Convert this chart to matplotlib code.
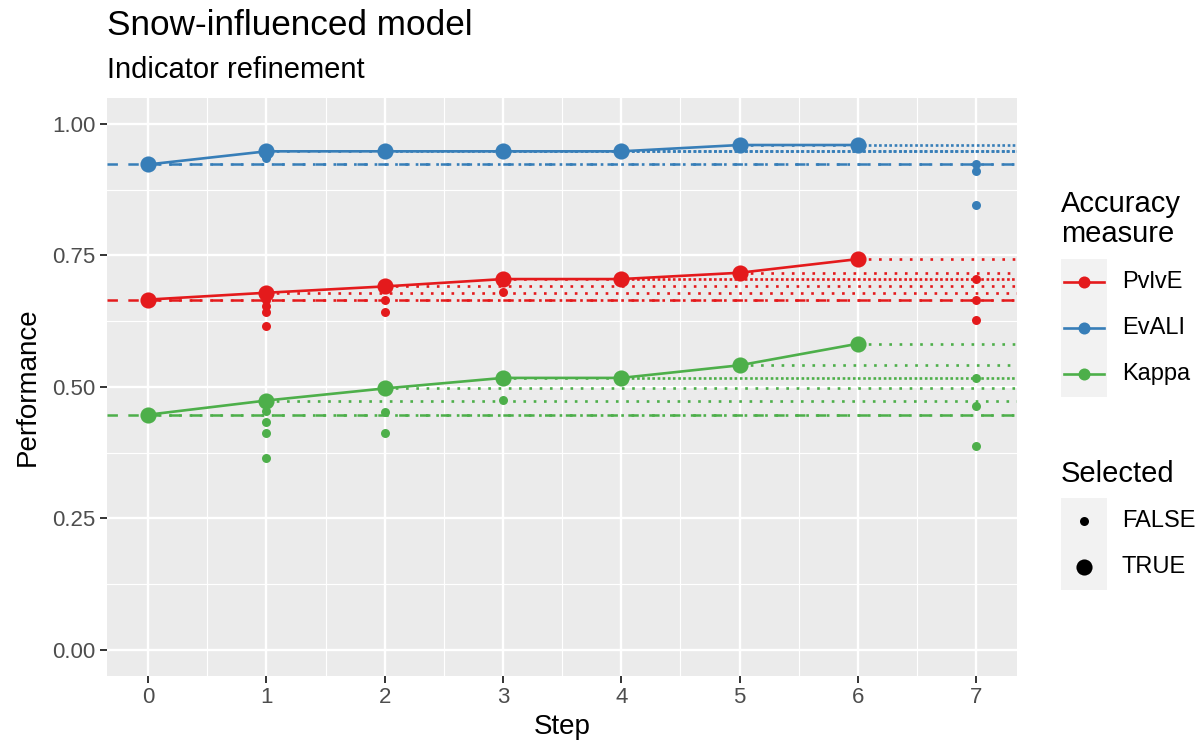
import matplotlib.pyplot as plt
from matplotlib.patches import Rectangle

plt.rcParams['font.family'] = ['Liberation Sans', 'DejaVu Sans']
plt.rcParams['lines.scale_dashes'] = False

steps = [0, 1, 2, 3, 4, 5, 6]
measures = ["PvlvE", "EvALI", "Kappa"]
colours = ["#E41A1C", "#377EB8", "#4DAF4A"]

# value of the kept indicator set at each step
pvlve_sel = [0.666, 0.679, 0.691, 0.705, 0.705, 0.717, 0.743]
evali_sel = [0.923, 0.948, 0.948, 0.948, 0.948, 0.960, 0.960]
kappa_sel = [0.447, 0.474, 0.497, 0.517, 0.517, 0.541, 0.582]

# candidates that were tried but not kept
pvlve_other_x = [1, 1, 1, 1, 2, 2, 3, 7, 7, 7]
pvlve_other_y = [0.666, 0.654, 0.642, 0.615, 0.666, 0.642, 0.680, 0.705, 0.666, 0.628]
evali_other_x = [1, 7, 7, 7]
evali_other_y = [0.936, 0.924, 0.910, 0.846]
kappa_other_x = [1, 1, 1, 1, 2, 2, 3, 7, 7, 7]
kappa_other_y = [0.454, 0.433, 0.413, 0.364, 0.453, 0.412, 0.475, 0.516, 0.463, 0.388]

sel = [pvlve_sel, evali_sel, kappa_sel]
other_x = [pvlve_other_x, evali_other_x, kappa_other_x]
other_y = [pvlve_other_y, evali_other_y, kappa_other_y]

W, H = 1203, 748
fig = plt.figure(figsize=(W / 100, H / 100), dpi=100)
ax = fig.add_axes([106.7 / W, 1 - 676 / H, (1017.5 - 106.7) / W, (676 - 97.7) / H])
ax.set_facecolor("#EBEBEB")
for s in ax.spines.values():
    s.set_visible(False)

xmin, xmax = -0.35, 7.35
ax.set_xlim(xmin, xmax)
ax.set_ylim(-0.05, 1.05)
ax.set_xticks(range(8))
ax.set_yticks([0, 0.25, 0.5, 0.75, 1.0])
ax.set_yticklabels(["0.00", "0.25", "0.50", "0.75", "1.00"])
ax.set_xticks([0.5 + i for i in range(7)], minor=True)
ax.set_yticks([0.125, 0.375, 0.625, 0.875], minor=True)
ax.grid(which="major", color="white", lw=1.7)
ax.grid(which="minor", color="white", lw=0.85)
ax.set_axisbelow(True)
ax.tick_params(which="major", length=5, width=1.4, color="#333333",
               labelsize=16, labelcolor="#4D4D4D", pad=3)
ax.tick_params(which="minor", length=0)
ax.set_xlabel("Step", fontsize=20, labelpad=4)
ax.set_ylabel("Performance", fontsize=20, labelpad=8)

for vals, ox, oy, c in zip(sel, other_x, other_y, colours):
    ax.axhline(vals[0], color=c, lw=1.8, ls=(0, (7.5, 7.5)), zorder=2)
    for k, v in zip(steps, vals):
        ax.plot([k, xmax], [v, v], color=c, lw=1.9, ls=(0, (1.9, 5.5)), zorder=2)
    ax.plot(steps, vals, color=c, lw=1.9, zorder=3)
    ax.scatter(ox, oy, s=42, color=c, lw=0, zorder=4)
    ax.scatter(steps, vals, s=135, color=c, lw=0, zorder=5)

# overlay in pixel units for titles and legends
ov = fig.add_axes([0, 0, 1, 1], facecolor="none")
ov.set_xlim(0, W)
ov.set_ylim(H, 0)
ov.axis("off")

ov.text(107, 35, "Snow-influenced model", fontsize=25.3, va="baseline")
ov.text(107, 78, "Indicator refinement", fontsize=21, va="baseline")

ov.text(1061, 211.7, "Accuracy", fontsize=21, va="baseline")
ov.text(1061, 241.7, "measure", fontsize=21, va="baseline")
ov.add_patch(Rectangle((1061, 259), 46, 138, color="#F2F2F2", lw=0))
for i, (m, c) in enumerate(zip(measures, colours)):
    yc = 282 + 46 * i
    ov.plot([1064, 1104], [yc, yc], color=c, lw=1.9)
    ov.scatter([1084], [yc], s=75, color=c, lw=0, zorder=5)
    ov.text(1122, yc, m, fontsize=17, va="center")

ov.text(1061, 481.7, "Selected", fontsize=21, va="baseline")
ov.add_patch(Rectangle((1061, 497.5), 46, 92, color="#F2F2F2", lw=0))
for i, (lab, sz) in enumerate(zip(["FALSE", "TRUE"], [42, 135])):
    yc = 520.7 + 46 * i
    ov.scatter([1084], [yc], s=sz, color="black", lw=0, zorder=5)
    ov.text(1122, yc, lab, fontsize=17, va="center")

fig.savefig("out.png", dpi=100)
